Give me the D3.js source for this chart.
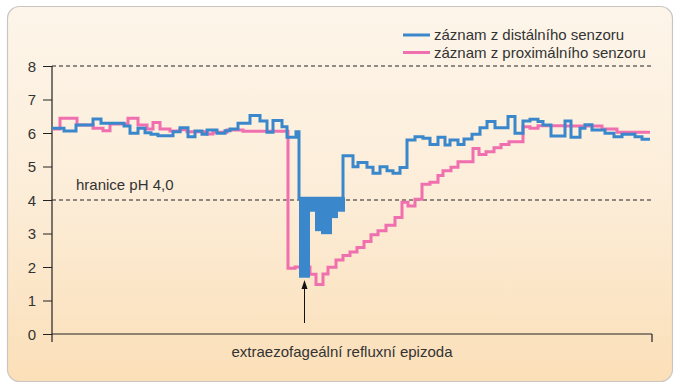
<!DOCTYPE html>
<html>
<head>
<meta charset="utf-8">
<script src="https://cdn.jsdelivr.net/npm/d3@7"></script>
<style>
  body { margin: 0; background: #fff; }
  svg { display: block; font-family: "Liberation Sans", Arial, sans-serif; }
</style>
</head>
<body>
<script>
// time (s) at which each step starts, and pH value of the step
var distalT = [0, 2.4, 4.8, 8.2, 9.8, 14.4, 15.6, 17.2, 18.6, 19.8, 21.2, 24.2, 25.6, 27.2, 28.6, 30, 31, 33, 34.6, 35.6, 37.2, 39.6, 41.6, 43, 44.2, 46, 47, 48.8, 49.4, 58.2, 60.2, 61.2, 63, 64.2, 65.6, 67, 68.2, 69.6, 71, 72.6, 74.2, 75.6, 77.2, 78.6, 79.6, 81.2, 82.4, 84, 85.6, 87, 88.6, 91.2, 92.6, 94.2, 95.6, 97.2, 98.2, 99.8, 102.6, 103.8, 105.6, 106.6, 108, 110.6, 112.4, 114, 116.6, 118];
var distalPH = [6.14, 6.06, 6.24, 6.42, 6.29, 6.21, 5.99, 6.14, 6.01, 5.96, 5.92, 6.04, 6.16, 5.89, 6.06, 5.96, 6.09, 5.99, 6.07, 6.12, 6.29, 6.52, 6.36, 6.02, 6.37, 6.19, 5.87, 6.04, 4.05, 5.32, 4.99, 5.12, 4.98, 4.80, 4.99, 4.87, 4.80, 4.97, 5.79, 5.89, 5.84, 5.66, 5.87, 5.64, 5.79, 5.66, 5.82, 5.96, 6.16, 6.34, 6.16, 6.49, 5.99, 6.36, 6.41, 6.34, 6.24, 5.91, 6.36, 5.87, 6.14, 6.25, 6.09, 5.99, 5.89, 5.96, 5.89, 5.81];

// fast oscillation of the distal sensor during the episode (drawn filled)
var bandT0 = [49.4, 51.6, 52.6, 53.8, 56, 57.2];
var bandT1 = [51.6, 52.6, 53.8, 56, 57.2, 58.6];
var bandLo = [1.68, 3.65, 3.07, 2.98, 3.46, 3.65];
var bandHi = [4.08, 4.08, 4.08, 4.08, 4.08, 4.08];

var proxT = [0, 1.6, 5, 8.2, 10.2, 11.6, 15.2, 17.2, 19, 20.2, 21.6, 23.6, 25.6, 27, 31, 32.2, 35, 38.2, 47.2, 48.6, 51.6, 52.8, 54.2, 55.2, 56.8, 58.2, 59.6, 61, 62.4, 63.8, 65.2, 66.8, 68.6, 70, 71.2, 72.6, 74, 75.6, 77.2, 78.2, 79.8, 81.2, 84.2, 85.4, 86.8, 88.4, 89.8, 91.4, 94.2, 95.6, 97.2, 102.6, 110, 113];
var proxPH = [6.12, 6.44, 6.24, 6.14, 6.07, 6.27, 6.44, 6.24, 6.12, 6.31, 6.12, 6.06, 6.10, 6.04, 5.97, 6.02, 6.09, 6.05, 1.96, 2.0, 1.78, 1.48, 1.79, 1.99, 2.21, 2.34, 2.45, 2.58, 2.76, 2.96, 3.08, 3.25, 3.48, 3.93, 3.82, 4.02, 4.47, 4.53, 4.73, 4.87, 4.98, 5.14, 5.54, 5.36, 5.44, 5.56, 5.66, 5.74, 6.19, 6.14, 6.22, 6.21, 6.12, 6.02];

var endT = 119.6;
var yTicks = [0, 1, 2, 3, 4, 5, 6, 7, 8];
var refLines = [8, 4];
var arrowT = 50.5;

var width = 679, height = 387;
var blue = "#3a88cb", pink = "#f06fae";

var svg = d3.select("body").append("svg")
    .attr("width", width)
    .attr("height", height);

var defs = svg.append("defs");
var grad = defs.append("linearGradient").attr("id", "bg")
    .attr("x1", 0).attr("y1", 0).attr("x2", 0).attr("y2", 1);
grad.append("stop").attr("offset", "0%").attr("stop-color", "#fdf5ea");
grad.append("stop").attr("offset", "50%").attr("stop-color", "#fcedd8");
grad.append("stop").attr("offset", "100%").attr("stop-color", "#fbdfb8");

svg.append("rect")
    .attr("x", 7.5).attr("y", 6.5)
    .attr("width", 665).attr("height", 375)
    .attr("rx", 12)
    .attr("fill", "url(#bg)")
    .attr("stroke", "#c9c6c2")
    .attr("stroke-width", 1.2);

var x = d3.scaleLinear().domain([0, 120]).range([52, 652]);
var y = d3.scaleLinear().domain([0, 8]).range([334, 66]);

// dashed reference lines
svg.selectAll(".ref").data(refLines).enter().append("line")
    .attr("x1", x(0)).attr("x2", x(120))
    .attr("y1", function(d){ return y(d); })
    .attr("y2", function(d){ return y(d); })
    .attr("stroke", "#222")
    .attr("stroke-width", 1)
    .attr("stroke-dasharray", "4,3");

// y axis
var yAxis = d3.axisLeft(y).tickValues(yTicks).tickSize(9).tickSizeOuter(0);
var gy = svg.append("g").attr("transform", "translate(" + x(0) + ",0)").call(yAxis);
gy.select(".domain").remove();
gy.selectAll(".tick line").attr("stroke", "#222");
gy.selectAll(".tick text")
    .attr("x", -16)
    .attr("dy", "0.36em")
    .attr("fill", "#333")
    .style("font-size", "15px");

svg.append("line")
    .attr("x1", x(0)).attr("x2", x(0))
    .attr("y1", y(8)).attr("y2", y(0) + 8)
    .attr("stroke", "#222").attr("stroke-width", 1.2);

// x axis
svg.append("line")
    .attr("x1", x(0)).attr("x2", x(120))
    .attr("y1", y(0)).attr("y2", y(0))
    .attr("stroke", "#222").attr("stroke-width", 1.2);
svg.append("line")
    .attr("x1", x(120)).attr("x2", x(120))
    .attr("y1", y(0)).attr("y2", y(0) + 8)
    .attr("stroke", "#222").attr("stroke-width", 1.2);

svg.append("text")
    .attr("x", 342).attr("y", 357)
    .attr("text-anchor", "middle")
    .attr("fill", "#333")
    .style("font-size", "15px")
    .text("extraezofageální refluxní epizoda");

svg.append("text")
    .attr("x", 76).attr("y", 190)
    .attr("fill", "#333")
    .style("font-size", "15px")
    .text("hranice pH 4,0");

function stepPoints(ts, vs){
    var pts = ts.map(function(t, i){ return [t, vs[i]]; });
    pts.push([endT, vs[vs.length - 1]]);
    return pts;
}

var line = d3.line()
    .x(function(d){ return x(d[0]); })
    .y(function(d){ return y(d[1]); })
    .curve(d3.curveStepAfter);

svg.append("path")
    .attr("d", line(stepPoints(proxT, proxPH)))
    .attr("fill", "none")
    .attr("stroke", pink)
    .attr("stroke-width", 3);

svg.append("path")
    .attr("d", line(stepPoints(distalT, distalPH)))
    .attr("fill", "none")
    .attr("stroke", blue)
    .attr("stroke-width", 3);

svg.selectAll(".band").data(bandT0).enter().append("rect")
    .attr("x", function(d){ return x(d); })
    .attr("width", function(d, i){ return x(bandT1[i]) - x(d); })
    .attr("y", function(d, i){ return y(bandHi[i]); })
    .attr("height", function(d, i){ return y(bandLo[i]) - y(bandHi[i]); })
    .attr("fill", blue);

// arrow marking the episode
var ax = x(arrowT);
svg.append("line")
    .attr("x1", ax).attr("x2", ax)
    .attr("y1", y(0) - 11).attr("y2", y(1.4))
    .attr("stroke", "#111").attr("stroke-width", 1);
svg.append("path")
    .attr("d", "M" + ax + "," + (y(1.4) - 7) + "L" + (ax - 3) + "," + (y(1.4) + 2) + "L" + (ax + 3) + "," + (y(1.4) + 2) + "Z")
    .attr("fill", "#111");

// legend
var legend = [
    { label: "záznam z distálního senzoru", color: blue },
    { label: "záznam z proximálního senzoru", color: pink }
];
var lg = svg.selectAll(".lg").data(legend).enter().append("g")
    .attr("transform", function(d, i){ return "translate(403," + (35 + i * 17.5) + ")"; });
lg.append("line")
    .attr("x1", 0).attr("x2", 27)
    .attr("stroke", function(d){ return d.color; })
    .attr("stroke-width", 3);
lg.append("text")
    .attr("x", 31).attr("dy", "0.36em")
    .attr("fill", "#333")
    .style("font-size", "15px")
    .text(function(d){ return d.label; });
</script>
</body>
</html>
